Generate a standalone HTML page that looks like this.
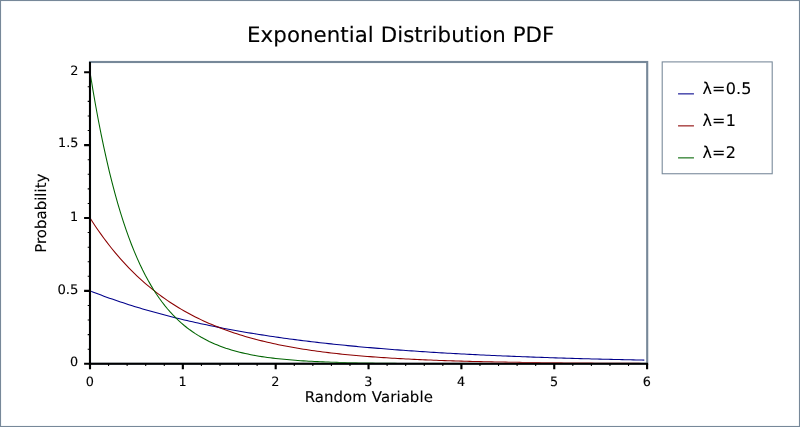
<!DOCTYPE html>
<html><head><meta charset="utf-8"><title>Exponential Distribution PDF</title>
<style>
html,body{margin:0;padding:0;background:#fff;}
svg{display:block;}
text{font-family:"DejaVu Sans","Liberation Sans",sans-serif;fill:#000;text-rendering:geometricPrecision;stroke:#000;stroke-width:0.12px;}
</style></head><body>
<svg width="800" height="427" viewBox="0 0 800 427">
<rect x="0" y="0" width="800" height="427" fill="#fff" stroke="#778899" stroke-width="2.13"/>
<rect x="90" y="62" width="557.2" height="301.8" fill="#fff" stroke="#778899" stroke-width="2.13"/>
<path d="M87.70,349.22L90.00,349.22M87.70,334.64L90.00,334.64M87.70,320.06L90.00,320.06M87.70,305.48L90.00,305.48M87.70,276.32L90.00,276.32M87.70,261.74L90.00,261.74M87.70,247.16L90.00,247.16M87.70,232.58L90.00,232.58M87.70,203.42L90.00,203.42M87.70,188.84L90.00,188.84M87.70,174.26L90.00,174.26M87.70,159.68L90.00,159.68M87.70,130.52L90.00,130.52M87.70,115.94L90.00,115.94M87.70,101.36L90.00,101.36M87.70,86.78L90.00,86.78M108.57,363.80L108.57,365.93M127.14,363.80L127.14,365.93M145.71,363.80L145.71,365.93M164.28,363.80L164.28,365.93M201.42,363.80L201.42,365.93M219.99,363.80L219.99,365.93M238.56,363.80L238.56,365.93M257.13,363.80L257.13,365.93M294.27,363.80L294.27,365.93M312.84,363.80L312.84,365.93M331.41,363.80L331.41,365.93M349.98,363.80L349.98,365.93M387.12,363.80L387.12,365.93M405.69,363.80L405.69,365.93M424.26,363.80L424.26,365.93M442.83,363.80L442.83,365.93M479.97,363.80L479.97,365.93M498.54,363.80L498.54,365.93M517.11,363.80L517.11,365.93M535.68,363.80L535.68,365.93M572.82,363.80L572.82,365.93M591.39,363.80L591.39,365.93M609.96,363.80L609.96,365.93M628.53,363.80L628.53,365.93" stroke="#000" stroke-width="1.07" fill="none"/>
<path d="M84.10,363.80L90.00,363.80M84.10,290.90L90.00,290.90M84.10,218.00L90.00,218.00M84.10,145.10L90.00,145.10M84.10,72.20L90.00,72.20M90.00,363.80L90.00,369.13M182.85,363.80L182.85,369.13M275.70,363.80L275.70,369.13M368.55,363.80L368.55,369.13M461.40,363.80L461.40,369.13M554.25,363.80L554.25,369.13M647.10,363.80L647.10,369.13" stroke="#000" stroke-width="2.13" fill="none"/>
<path d="M89.97,62L89.97,364.87M88.9,363.87L648.05,363.87" stroke="#000" stroke-width="2" fill="none"/>
<clipPath id="pc"><rect x="91.07" y="63.07" width="555.06" height="299.66"/></clipPath>
<g clip-path="url(#pc)">
<path d="M90.00,290.90 L92.77,291.98 L95.54,293.04 L98.31,294.09 L101.09,295.12 L103.86,296.14 L106.63,297.14 L109.40,298.13 L112.17,299.10 L114.94,300.06 L117.72,301.01 L120.49,301.94 L123.26,302.85 L126.03,303.76 L128.80,304.65 L131.57,305.52 L134.35,306.39 L137.12,307.24 L139.89,308.07 L142.66,308.90 L145.43,309.71 L148.20,310.51 L150.97,311.30 L153.75,312.08 L156.52,312.85 L159.29,313.60 L162.06,314.35 L164.83,315.08 L167.60,315.80 L170.38,316.51 L173.15,317.21 L175.92,317.90 L178.69,318.58 L181.46,319.25 L184.23,319.91 L187.01,320.56 L189.78,321.20 L192.55,321.83 L195.32,322.46 L198.09,323.07 L200.86,323.67 L203.63,324.27 L206.41,324.85 L209.18,325.43 L211.95,326.00 L214.72,326.56 L217.49,327.11 L220.26,327.65 L223.04,328.19 L225.81,328.72 L228.58,329.24 L231.35,329.75 L234.12,330.25 L236.89,330.75 L239.66,331.24 L242.44,331.72 L245.21,332.20 L247.98,332.66 L250.75,333.13 L253.52,333.58 L256.29,334.03 L259.07,334.47 L261.84,334.90 L264.61,335.33 L267.38,335.75 L270.15,336.17 L272.92,336.58 L275.70,336.98 L278.47,337.38 L281.24,337.77 L284.01,338.16 L286.78,338.54 L289.55,338.91 L292.32,339.28 L295.10,339.64 L297.87,340.00 L300.64,340.35 L303.41,340.70 L306.18,341.04 L308.95,341.38 L311.73,341.71 L314.50,342.04 L317.27,342.36 L320.04,342.68 L322.81,342.99 L325.58,343.30 L328.36,343.60 L331.13,343.90 L333.90,344.20 L336.67,344.49 L339.44,344.77 L342.21,345.06 L344.98,345.33 L347.76,345.61 L350.53,345.88 L353.30,346.14 L356.07,346.40 L358.84,346.66 L361.61,346.91 L364.39,347.16 L367.16,347.41 L369.93,347.65 L372.70,347.89 L375.47,348.13 L378.24,348.36 L381.02,348.59 L383.79,348.82 L386.56,349.04 L389.33,349.26 L392.10,349.47 L394.87,349.68 L397.64,349.89 L400.42,350.10 L403.19,350.30 L405.96,350.50 L408.73,350.70 L411.50,350.89 L414.27,351.08 L417.05,351.27 L419.82,351.46 L422.59,351.64 L425.36,351.82 L428.13,352.00 L430.90,352.17 L433.67,352.35 L436.45,352.52 L439.22,352.68 L441.99,352.85 L444.76,353.01 L447.53,353.17 L450.30,353.33 L453.08,353.48 L455.85,353.63 L458.62,353.79 L461.39,353.93 L464.16,354.08 L466.93,354.22 L469.71,354.37 L472.48,354.51 L475.25,354.64 L478.02,354.78 L480.79,354.91 L483.56,355.04 L486.33,355.17 L489.11,355.30 L491.88,355.43 L494.65,355.55 L497.42,355.67 L500.19,355.79 L502.96,355.91 L505.74,356.03 L508.51,356.14 L511.28,356.26 L514.05,356.37 L516.82,356.48 L519.59,356.59 L522.37,356.70 L525.14,356.80 L527.91,356.90 L530.68,357.01 L533.45,357.11 L536.22,357.21 L538.99,357.30 L541.77,357.40 L544.54,357.49 L547.31,357.59 L550.08,357.68 L552.85,357.77 L555.62,357.86 L558.40,357.95 L561.17,358.03 L563.94,358.12 L566.71,358.20 L569.48,358.29 L572.25,358.37 L575.03,358.45 L577.80,358.53 L580.57,358.61 L583.34,358.68 L586.11,358.76 L588.88,358.83 L591.65,358.91 L594.43,358.98 L597.20,359.05 L599.97,359.12 L602.74,359.19 L605.51,359.26 L608.28,359.33 L611.06,359.39 L613.83,359.46 L616.60,359.52 L619.37,359.59 L622.14,359.65 L624.91,359.71 L627.69,359.77 L630.46,359.83 L633.23,359.89 L636.00,359.95 L638.77,360.00 L641.54,360.06 L644.31,360.12" stroke="#00008B" stroke-width="1.07" fill="none"/>
<path d="M90.00,218.00 L92.77,222.29 L95.54,226.45 L98.31,230.49 L101.09,234.41 L103.86,238.21 L106.63,241.91 L109.40,245.49 L112.17,248.97 L114.94,252.35 L117.72,255.63 L120.49,258.81 L123.26,261.90 L126.03,264.89 L128.80,267.80 L131.57,270.62 L134.35,273.36 L137.12,276.02 L139.89,278.61 L142.66,281.11 L145.43,283.54 L148.20,285.90 L150.97,288.19 L153.75,290.42 L156.52,292.58 L159.29,294.67 L162.06,296.70 L164.83,298.68 L167.60,300.59 L170.38,302.45 L173.15,304.25 L175.92,306.01 L178.69,307.71 L181.46,309.36 L184.23,310.96 L187.01,312.51 L189.78,314.02 L192.55,315.48 L195.32,316.90 L198.09,318.28 L200.86,319.62 L203.63,320.92 L206.41,322.18 L209.18,323.41 L211.95,324.59 L214.72,325.75 L217.49,326.87 L220.26,327.95 L223.04,329.01 L225.81,330.03 L228.58,331.02 L231.35,331.99 L234.12,332.92 L236.89,333.83 L239.66,334.71 L242.44,335.57 L245.21,336.40 L247.98,337.20 L250.75,337.99 L253.52,338.74 L256.29,339.48 L259.07,340.20 L261.84,340.89 L264.61,341.56 L267.38,342.22 L270.15,342.85 L272.92,343.47 L275.70,344.07 L278.47,344.65 L281.24,345.21 L284.01,345.76 L286.78,346.29 L289.55,346.80 L292.32,347.30 L295.10,347.79 L297.87,348.26 L300.64,348.72 L303.41,349.16 L306.18,349.59 L308.95,350.01 L311.73,350.41 L314.50,350.81 L317.27,351.19 L320.04,351.56 L322.81,351.92 L325.58,352.27 L328.36,352.61 L331.13,352.94 L333.90,353.26 L336.67,353.57 L339.44,353.87 L342.21,354.16 L344.98,354.44 L347.76,354.72 L350.53,354.99 L353.30,355.25 L356.07,355.50 L358.84,355.74 L361.61,355.98 L364.39,356.21 L367.16,356.43 L369.93,356.65 L372.70,356.86 L375.47,357.06 L378.24,357.26 L381.02,357.45 L383.79,357.64 L386.56,357.82 L389.33,358.00 L392.10,358.17 L394.87,358.33 L397.64,358.49 L400.42,358.65 L403.19,358.80 L405.96,358.95 L408.73,359.09 L411.50,359.23 L414.27,359.36 L417.05,359.49 L419.82,359.62 L422.59,359.74 L425.36,359.86 L428.13,359.98 L430.90,360.09 L433.67,360.20 L436.45,360.31 L439.22,360.41 L441.99,360.51 L444.76,360.61 L447.53,360.70 L450.30,360.79 L453.08,360.88 L455.85,360.97 L458.62,361.05 L461.39,361.13 L464.16,361.21 L466.93,361.28 L469.71,361.36 L472.48,361.43 L475.25,361.50 L478.02,361.57 L480.79,361.63 L483.56,361.70 L486.33,361.76 L489.11,361.82 L491.88,361.88 L494.65,361.93 L497.42,361.99 L500.19,362.04 L502.96,362.09 L505.74,362.14 L508.51,362.19 L511.28,362.24 L514.05,362.29 L516.82,362.33 L519.59,362.37 L522.37,362.42 L525.14,362.46 L527.91,362.50 L530.68,362.53 L533.45,362.57 L536.22,362.61 L538.99,362.64 L541.77,362.68 L544.54,362.71 L547.31,362.74 L550.08,362.77 L552.85,362.80 L555.62,362.83 L558.40,362.86 L561.17,362.89 L563.94,362.91 L566.71,362.94 L569.48,362.97 L572.25,362.99 L575.03,363.01 L577.80,363.04 L580.57,363.06 L583.34,363.08 L586.11,363.10 L588.88,363.12 L591.65,363.14 L594.43,363.16 L597.20,363.18 L599.97,363.20 L602.74,363.22 L605.51,363.23 L608.28,363.25 L611.06,363.27 L613.83,363.28 L616.60,363.30 L619.37,363.31 L622.14,363.33 L624.91,363.34 L627.69,363.35 L630.46,363.37 L633.23,363.38 L636.00,363.39 L638.77,363.40 L641.54,363.42 L644.31,363.43" stroke="#8B0000" stroke-width="1.07" fill="none"/>
<path d="M90.00,72.20 L92.77,89.10 L95.54,105.02 L98.31,120.02 L101.09,134.14 L103.86,147.45 L106.63,159.99 L109.40,171.80 L112.17,182.93 L114.94,193.41 L117.72,203.29 L120.49,212.59 L123.26,221.35 L126.03,229.61 L128.80,237.38 L131.57,244.71 L134.35,251.61 L137.12,258.11 L139.89,264.24 L142.66,270.01 L145.43,275.44 L148.20,280.56 L150.97,285.39 L153.75,289.93 L156.52,294.21 L159.29,298.25 L162.06,302.04 L164.83,305.62 L167.60,308.99 L170.38,312.17 L173.15,315.16 L175.92,317.98 L178.69,320.64 L181.46,323.14 L184.23,325.49 L187.01,327.71 L189.78,329.81 L192.55,331.78 L195.32,333.63 L198.09,335.38 L200.86,337.03 L203.63,338.58 L206.41,340.04 L209.18,341.42 L211.95,342.71 L214.72,343.94 L217.49,345.09 L220.26,346.17 L223.04,347.19 L225.81,348.16 L228.58,349.06 L231.35,349.92 L234.12,350.72 L236.89,351.48 L239.66,352.19 L242.44,352.87 L245.21,353.50 L247.98,354.10 L250.75,354.66 L253.52,355.19 L256.29,355.69 L259.07,356.16 L261.84,356.60 L264.61,357.02 L267.38,357.41 L270.15,357.78 L272.92,358.13 L275.70,358.46 L278.47,358.77 L281.24,359.06 L284.01,359.33 L286.78,359.59 L289.55,359.84 L292.32,360.07 L295.10,360.28 L297.87,360.49 L300.64,360.68 L303.41,360.86 L306.18,361.03 L308.95,361.19 L311.73,361.34 L314.50,361.48 L317.27,361.62 L320.04,361.74 L322.81,361.86 L325.58,361.98 L328.36,362.08 L331.13,362.18 L333.90,362.28 L336.67,362.36 L339.44,362.45 L342.21,362.53 L344.98,362.60 L347.76,362.67 L350.53,362.73 L353.30,362.80 L356.07,362.85 L358.84,362.91 L361.61,362.96 L364.39,363.01 L367.16,363.06 L369.93,363.10 L372.70,363.14 L375.47,363.18 L378.24,363.21 L381.02,363.25 L383.79,363.28 L386.56,363.31 L389.33,363.34 L392.10,363.36 L394.87,363.39 L397.64,363.41 L400.42,363.44 L403.19,363.46 L405.96,363.48 L408.73,363.50 L411.50,363.51 L414.27,363.53 L417.05,363.55 L419.82,363.56 L422.59,363.57 L425.36,363.59 L428.13,363.60 L430.90,363.61 L433.67,363.62 L436.45,363.63 L439.22,363.64 L441.99,363.65 L444.76,363.66 L447.53,363.67 L450.30,363.68 L453.08,363.68 L455.85,363.69 L458.62,363.70 L461.39,363.70 L464.16,363.71 L466.93,363.71 L469.71,363.72 L472.48,363.72 L475.25,363.73 L478.02,363.73 L480.79,363.74 L483.56,363.74 L486.33,363.74 L489.11,363.75 L491.88,363.75 L494.65,363.75 L497.42,363.75 L500.19,363.76 L502.96,363.76 L505.74,363.76 L508.51,363.76 L511.28,363.77 L514.05,363.77 L516.82,363.77 L519.59,363.77 L522.37,363.77 L525.14,363.78 L527.91,363.78 L530.68,363.78 L533.45,363.78 L536.22,363.78 L538.99,363.78 L541.77,363.78 L544.54,363.78 L547.31,363.78 L550.08,363.79 L552.85,363.79 L555.62,363.79 L558.40,363.79 L561.17,363.79 L563.94,363.79 L566.71,363.79 L569.48,363.79 L572.25,363.79 L575.03,363.79 L577.80,363.79 L580.57,363.79 L583.34,363.79 L586.11,363.79 L588.88,363.79 L591.65,363.79 L594.43,363.79 L597.20,363.79 L599.97,363.80 L602.74,363.80 L605.51,363.80 L608.28,363.80 L611.06,363.80 L613.83,363.80 L616.60,363.80 L619.37,363.80 L622.14,363.80 L624.91,363.80 L627.69,363.80 L630.46,363.80 L633.23,363.80 L636.00,363.80 L638.77,363.80 L641.54,363.80 L644.31,363.80" stroke="#006400" stroke-width="1.07" fill="none"/>
</g>
<text x="78.1" y="366.35" font-size="12.8" text-anchor="end">0</text>
<text x="78.4" y="293.65" font-size="13.2" text-anchor="end">0.5</text>
<text x="78.1" y="220.70" font-size="12.8" text-anchor="end">1</text>
<text x="78.35" y="147.35" font-size="12.8" text-anchor="end">1.5</text>
<text x="78.4" y="75.00" font-size="12.8" text-anchor="end">2</text>
<text x="89.75" y="386.35" font-size="12.8" text-anchor="middle">0</text>
<text x="182.60" y="386.35" font-size="12.8" text-anchor="middle">1</text>
<text x="275.45" y="386.35" font-size="12.8" text-anchor="middle">2</text>
<text x="368.30" y="386.35" font-size="12.8" text-anchor="middle">3</text>
<text x="461.15" y="386.35" font-size="12.8" text-anchor="middle">4</text>
<text x="554.00" y="386.35" font-size="12.8" text-anchor="middle">5</text>
<text x="646.85" y="386.35" font-size="12.8" text-anchor="middle">6</text>
<text x="400.75" y="42.3" font-size="21.33" letter-spacing="0.06" text-anchor="middle">Exponential Distribution PDF</text>
<text x="368.8" y="401.8" font-size="14.93" letter-spacing="0.09" text-anchor="middle">Random Variable</text>
<text transform="translate(45.7,213.15) rotate(-90)" font-size="14.93" letter-spacing="0.03" text-anchor="middle">Probability</text>
<rect x="662.2" y="61.9" width="110" height="111.85" fill="#fff" stroke="#778899" stroke-width="1.07"/>
<path d="M678.05,93.87L693.95,93.87" stroke="#00008B" stroke-width="1.07" fill="none"/>
<text x="702.5" y="93.87" font-size="16" letter-spacing="0.13">λ=0.5</text>
<path d="M678.05,125.87L693.95,125.87" stroke="#8B0000" stroke-width="1.07" fill="none"/>
<text x="702.5" y="125.87" font-size="16" letter-spacing="0.13">λ=1</text>
<path d="M678.05,157.87L693.95,157.87" stroke="#006400" stroke-width="1.07" fill="none"/>
<text x="702.5" y="157.87" font-size="16" letter-spacing="0.13">λ=2</text>
</svg>
</body></html>
